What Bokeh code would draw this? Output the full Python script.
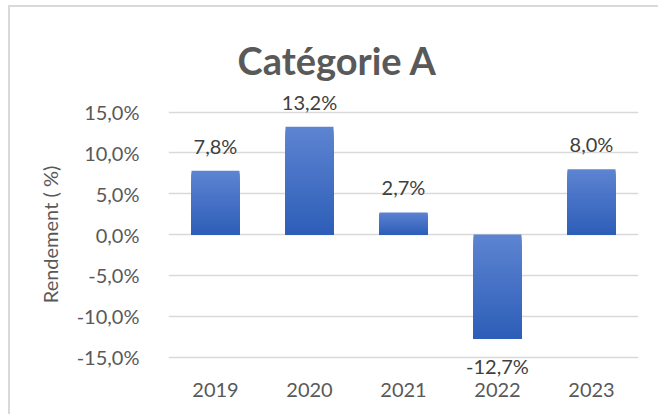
from bokeh.plotting import figure
from bokeh.models import ColumnDataSource, FixedTicker, LabelSet
from bokeh.core.properties import value
from bokeh.embed import file_html
from bokeh.resources import INLINE

# ---- data ----
years = ["2019", "2020", "2021", "2022", "2023"]
returns = [7.8, 13.2, 2.7, -12.7, 8.0]
value_labels = ["7,8%", "13,2%", "2,7%", "-12,7%", "8,0%"]
y_ticks = [-15, -10, -5, 0, 5, 10, 15]
y_tick_labels = ["-15,0%", "-10,0%", "-5,0%", "0,0%", "5,0%", "10,0%", "15,0%"]
title_text = "Catégorie A"
y_title = "Rendement ( %)"

FONT = "Lato"
TOP_RGB = (93, 132, 209)
BOT_RGB = (45, 94, 184)
N = 40

p = figure(x_range=years, y_range=(-18, 18), width=650, height=409,
           output_backend="svg", toolbar_location=None,
           min_border_left=158, min_border_right=22,
           min_border_top=80, min_border_bottom=35)
p.styles = {"margin-left": "8px", "margin-top": "5px",
            "border-left": "2px solid #d9d9d9", "border-top": "2px solid #d9d9d9"}
p.x_range.range_padding = 0
p.outline_line_color = None
p.background_fill_color = "white"
p.border_fill_color = "white"

# title
p.title.text = title_text
p.title.align = "left"
p.title.offset = 69
p.title.text_font = FONT
p.title.text_font_size = "38px"
p.title.text_font_style = "bold"
p.title.text_color = "#595959"
p.title.standoff = 10

# gradient bars as overlapping slices (top light -> bottom dark)
xs, tops, bots, cols = [], [], [], []
for yr, v in zip(years, returns):
    hi, lo = max(v, 0), min(v, 0)
    for i in range(N):
        t = hi - (hi - lo) * i / N
        f = (i + 0.5) / N
        c = tuple(int(round(TOP_RGB[k] + (BOT_RGB[k] - TOP_RGB[k]) * f)) for k in range(3))
        xs.append(yr); tops.append(t); bots.append(lo)
        cols.append("#%02x%02x%02x" % c)
bar_src = ColumnDataSource(dict(x=xs, top=tops, bottom=bots, color=cols))
p.vbar(x="x", top="top", bottom="bottom", width=0.51, source=bar_src,
       fill_color="color", line_color=None)

# data labels
lab_src = ColumnDataSource(dict(
    x=years, y=returns, text=value_labels,
    off=[17 if v >= 0 else -36 for v in returns]))
labels = LabelSet(x="x", y="y", text="text", source=lab_src,
                  y_offset="off", text_align="center", text_baseline="alphabetic",
                  text_font=value(FONT), text_font_size=value("20px"),
                  text_color="#404040")
p.add_layout(labels)

# axes
p.yaxis.ticker = FixedTicker(ticks=y_ticks)
p.yaxis.major_label_overrides = {t: l for t, l in zip(y_ticks, y_tick_labels)}
for ax in (p.xaxis, p.yaxis):
    ax.axis_line_color = None
    ax.major_tick_line_color = None
    ax.minor_tick_line_color = None
    ax.major_label_text_font = FONT
    ax.major_label_text_font_size = "20px"
    ax.major_label_text_color = "#595959"
p.yaxis.major_label_standoff = 23
p.xaxis.major_label_standoff = -5
p.yaxis.axis_label = y_title
p.yaxis.axis_label_text_font = FONT
p.yaxis.axis_label_text_font_size = "20px"
p.yaxis.axis_label_text_font_style = "normal"
p.yaxis.axis_label_text_color = "#595959"
p.yaxis.axis_label_standoff = 12

p.xgrid.grid_line_color = None
p.ygrid.grid_line_color = "#d9d9d9"
p.ygrid.grid_line_width = 1.5

open("out.html", "w").write(file_html(p, INLINE))
